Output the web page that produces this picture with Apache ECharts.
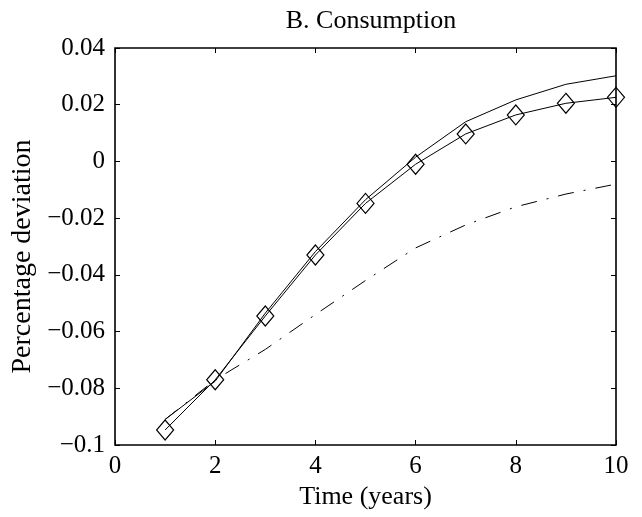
<!DOCTYPE html>
<html>
<head>
<meta charset="utf-8">
<script src="https://cdn.jsdelivr.net/npm/echarts@6/dist/echarts.min.js"></script>
<style>html,body{margin:0;padding:0;background:#fff;}#c{width:642px;height:517px;}</style>
</head>
<body>
<div id="c"></div>
<script>
const years = [1, 2, 3, 4, 5, 6, 7, 8, 9, 10];
const upperLine = [-0.091, -0.0775, -0.0535, -0.0318, -0.0135, 0.0015, 0.014, 0.0217, 0.0272, 0.0302];
const diamondLine = [-0.0947, -0.077, -0.0545, -0.033, -0.0148, -0.001, 0.0097, 0.0164, 0.0205, 0.0226];
const dashDotLine = [-0.091, -0.077, -0.0663, -0.054, -0.042, -0.0305, -0.0224, -0.016, -0.0115, -0.008];
const xTickLabels = ['0', '2', '4', '6', '8', '10'];
const yTickLabels = ['\u22120.1', '\u22120.08', '\u22120.06', '\u22120.04', '\u22120.02', '0', '0.02', '0.04'];

const FONT = 'Liberation Serif';
const pair = (ys) => years.map((x, i) => [x, ys[i]]);

const chart = echarts.init(document.getElementById('c'));
const hiddenLine = { show: false, onZero: false };
const innerTick = { inside: true, length: 5, lineStyle: { color: '#000', width: 1 } };
chart.setOption({
  animation: false,
  backgroundColor: '#fff',
  title: {
    text: 'B. Consumption',
    left: 366, top: 3, textAlign: 'center',
    textStyle: { fontFamily: FONT, fontSize: 26, fontWeight: 'normal', color: '#000' }
  },
  grid: { left: 115, right: 26, top: 48, bottom: 72, show: true, borderColor: '#000', borderWidth: 1.6, backgroundColor: 'transparent' },
  xAxis: [
    {
      type: 'value', min: 0, max: 10, interval: 2,
      name: 'Time (years)', nameLocation: 'middle', nameGap: 38,
      nameTextStyle: { fontFamily: FONT, fontSize: 26, color: '#000' },
      axisLine: hiddenLine,
      axisTick: innerTick,
      axisLabel: { margin: 9, fontFamily: FONT, fontSize: 25, color: '#000',
        formatter: (v) => xTickLabels[Math.round(v / 2)] },
      splitLine: { show: false }
    },
    {
      type: 'value', min: 0, max: 10, interval: 2, position: 'top',
      axisLine: hiddenLine,
      axisTick: innerTick,
      axisLabel: { show: false }, splitLine: { show: false }
    }
  ],
  yAxis: [
    {
      type: 'value', min: -0.1, max: 0.04, interval: 0.02,
      name: 'Percentage deviation', nameLocation: 'middle', nameGap: 68,
      nameTextStyle: { fontFamily: FONT, fontSize: 28, color: '#000', padding: [0, 20, 0, 0] },
      axisLine: hiddenLine,
      axisTick: innerTick,
      axisLabel: { margin: 10, fontFamily: FONT, fontSize: 25, color: '#000',
        formatter: (v) => yTickLabels[Math.round((v + 0.1) / 0.02)] },
      splitLine: { show: false }
    },
    {
      type: 'value', min: -0.1, max: 0.04, interval: 0.02, position: 'right',
      axisLine: hiddenLine,
      axisTick: innerTick,
      axisLabel: { show: false }, splitLine: { show: false }
    }
  ],
  series: [
    {
      type: 'line', data: pair(upperLine), symbol: 'none',
      lineStyle: { color: '#000', width: 1 }, z: 3
    },
    {
      type: 'line', data: pair(diamondLine), symbol: 'diamond', symbolSize: [17, 20],
      lineStyle: { color: '#000', width: 1 },
      itemStyle: { color: 'rgba(0,0,0,0)', borderColor: '#000', borderWidth: 1.2 }, z: 4
    },
    {
      type: 'line', data: pair(dashDotLine), symbol: 'none',
      lineStyle: { color: '#000', width: 1, type: [16, 10, 2, 10] }, z: 2
    }
  ]
});
</script>
</body>
</html>
